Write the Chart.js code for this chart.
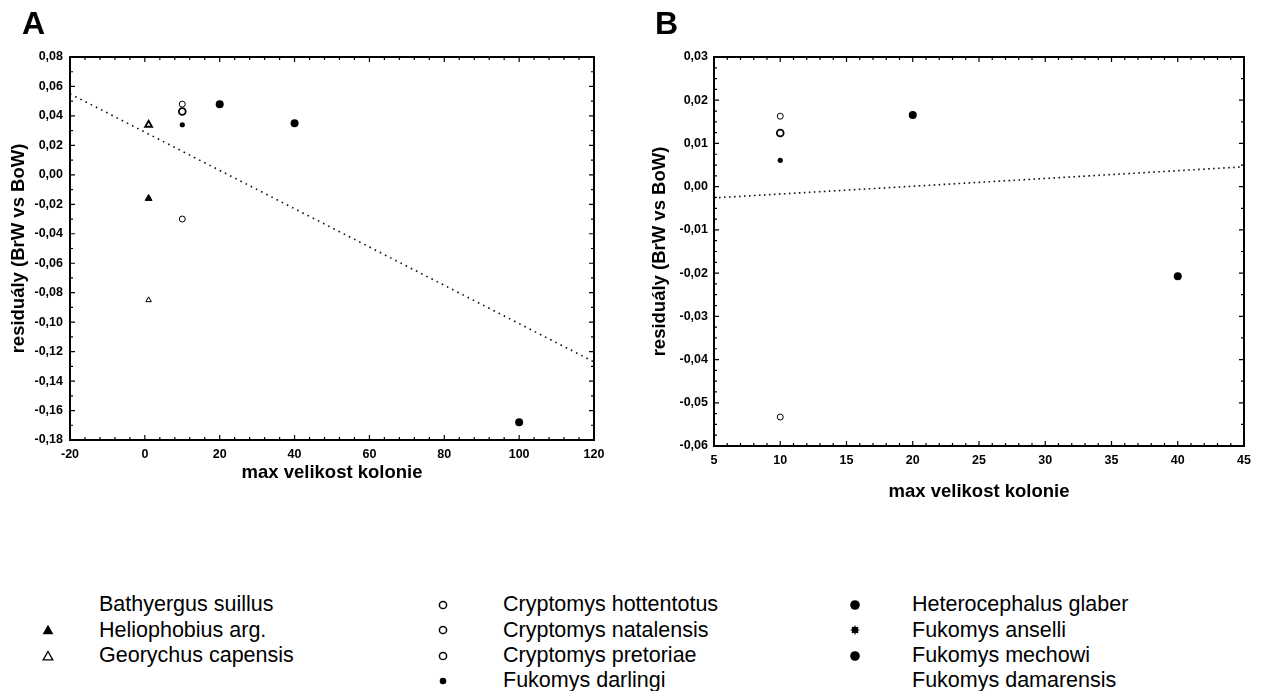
<!DOCTYPE html>
<html>
<head>
<meta charset="utf-8">
<script src="https://cdn.jsdelivr.net/npm/chart.js@4.4.1/dist/chart.umd.min.js"></script>
<style>
body{margin:0;background:#fff;width:1264px;height:691px;overflow:hidden;position:relative;font-family:"Liberation Sans",Arial,sans-serif;}
#cA{position:absolute;left:0;top:0;}
#cB{position:absolute;left:620px;top:0;}
.lab{position:absolute;font-weight:bold;font-size:32px;line-height:32px;color:#000;}
.leg{position:absolute;font-size:21.5px;line-height:25.3px;color:#000;white-space:nowrap;}
.sym{position:absolute;width:14px;height:14px;}
</style>
</head>
<body>
<canvas id="cA" width="620" height="500"></canvas>
<canvas id="cB" width="644" height="520"></canvas>
<div class="lab" style="left:22px;top:7px">A</div>
<div class="lab" style="left:655px;top:7px">B</div>
<div id="legend"></div>
<script>
// tick labels
const xTicksA=[-20,0,20,40,60,80,100,120];
const yTicksA=[-0.18,-0.16,-0.14,-0.12,-0.10,-0.08,-0.06,-0.04,-0.02,0,0.02,0.04,0.06,0.08];
const xTicksB=[5,10,15,20,25,30,35,40,45];
const yTicksB=[-0.06,-0.05,-0.04,-0.03,-0.02,-0.01,0,0.01,0.02,0.03];

// panel A
const triFilledAx=[1], triFilledAy=[-0.016];
const triOpenAx=[1,1], triOpenAy=[0.034,-0.085];
const circOpenAx=[10,10,10], circOpenAy=[0.048,0.043,-0.030];
const dotSmallAx=[10], dotSmallAy=[0.034];
const dotBigAx=[20,40,100], dotBigAy=[0.048,0.035,-0.168];
const fitAx=[-20,120], fitAy=[0.055,-0.127];

// panel B
const circOpenBx=[10,10,10], circOpenBy=[0.0163,0.0124,-0.0533];
const dotSmallBx=[10], dotSmallBy=[0.0061];
const dotBigBx=[20,40], dotBigBy=[0.0166,-0.0207];
const fitBx=[5,45], fitBy=[-0.0026,0.0046];

// legend
const legendCol1=["Bathyergus suillus","Heliophobius arg.","Georychus capensis"];
const legendSym1=[null,"triF","triO"];
const legendCol2=["Cryptomys hottentotus","Cryptomys natalensis","Cryptomys pretoriae","Fukomys darlingi"];
const legendSym2=["circO","circO","circO","dotS"];
const legendCol3=["Heterocephalus glaber","Fukomys anselli","Fukomys mechowi","Fukomys damarensis"];
const legendSym3=["dotB","star","dotB",null];

const pts=(xs,ys)=>xs.map((x,i)=>({x:x,y:ys[i]}));
const fmt=v=>{const n=Math.abs(v)<1e-9?0:v;return n.toFixed(2).replace(".",",");};

// frame + inward minor ticks
const frame={
  id:"frame",
  afterDatasetsDraw(chart,args,o){
    const {ctx,chartArea:a,scales:{x,y}}=chart;
    const steps=(min,max,st)=>{const n=Math.round((max-min)/st);return Array.from({length:n+1},(_,i)=>min+i*st);};
    const isMajor=(v,arr)=>arr.some(t=>Math.abs(t-v)<1e-7);
    ctx.save();
    ctx.strokeStyle="#000";
    ctx.lineWidth=1.2;
    ctx.beginPath();
    steps(x.min,x.max,o.xStep).forEach(v=>{
      const p=x.getPixelForValue(v), L=isMajor(v,o.xMajor)?5:3;
      ctx.moveTo(p,a.top);ctx.lineTo(p,a.top+L);
      ctx.moveTo(p,a.bottom);ctx.lineTo(p,a.bottom-L);
    });
    steps(y.min,y.max,o.yStepL).forEach(v=>{
      const p=y.getPixelForValue(v), L=isMajor(v,o.yMajor)?5:3;
      ctx.moveTo(a.left,p);ctx.lineTo(a.left+L,p);
    });
    steps(y.min,y.max,o.yStepR).forEach(v=>{
      const p=y.getPixelForValue(v), L=isMajor(v,o.yMajor)?5:3;
      ctx.moveTo(a.right,p);ctx.lineTo(a.right-L,p);
    });
    ctx.stroke();
    ctx.lineWidth=2;
    ctx.strokeRect(a.left,a.top,a.right-a.left,a.bottom-a.top);
    ctx.restore();
  }
};

Chart.defaults.font.family='"Liberation Sans", Arial, sans-serif';
Chart.defaults.color="#000";

function makeScales(xt,yt,xf,yf,sz){
  return {
    x:{
      type:"linear",min:xt[0],max:xt[xt.length-1],
      afterBuildTicks:s=>{s.ticks=xt.map(v=>({value:v}));},
      grid:{display:false,drawTicks:false},border:{display:false},
      ticks:{font:{size:12.5,weight:"bold"},color:"#000",padding:sz.xPad,maxRotation:0,autoSkip:false,callback:xf},
      title:{display:true,text:"max velikost kolonie",font:{size:18.5,weight:"bold"},color:"#000",padding:{top:0,bottom:sz.xTitlePad}},
      afterFit:s=>{s.height=sz.xH;}
    },
    y:{
      type:"linear",min:yt[0],max:yt[yt.length-1],
      afterBuildTicks:s=>{s.ticks=yt.map(v=>({value:v}));},
      grid:{display:false,drawTicks:false},border:{display:false},
      ticks:{font:{size:12.5,weight:"bold"},color:"#000",padding:sz.yPad,autoSkip:false,callback:yf},
      title:{display:true,text:"residuály (BrW vs BoW)",font:{size:18.5,weight:"bold"},color:"#000",padding:{top:sz.yTitlePad,bottom:0}},
      afterFit:s=>{s.width=sz.yW;}
    }
  };
}

const mk=(data,style)=>Object.assign({data:data,showLine:false,borderColor:"#000"},style);
const fitStyle=dash=>({showLine:true,pointRadius:0,borderColor:"#111",borderWidth:1.6,borderDash:dash,order:5,fill:false});

new Chart(document.getElementById("cA"),{
  type:"scatter",
  data:{datasets:[
    mk(pts(fitAx,fitAy),fitStyle([1.6,4.2])),
    mk(pts(triFilledAx,triFilledAy),{pointStyle:"triangle",pointRadius:4,backgroundColor:"#000",borderWidth:1}),
    mk(pts(triOpenAx,triOpenAy),{pointStyle:"triangle",pointRadius:[4,3.2],backgroundColor:"#fff",borderWidth:[1.8,1]}),
    mk(pts(circOpenAx,circOpenAy),{pointStyle:"circle",pointRadius:[3,3.4,3],backgroundColor:"#fff",borderWidth:[1,1.8,1]}),
    mk(pts(dotSmallAx,dotSmallAy),{pointStyle:"circle",pointRadius:2.6,backgroundColor:"#000",borderWidth:0}),
    mk(pts(dotBigAx,dotBigAy),{pointStyle:"circle",pointRadius:4,backgroundColor:"#000",borderWidth:0})
  ]},
  options:{
    responsive:false,animation:false,
    layout:{padding:{left:0,top:57,right:26,bottom:15}},
    plugins:{legend:{display:false},tooltip:{enabled:false},
      frame:{xStep:4,yStepL:0.01,yStepR:0.01,xMajor:xTicksA,yMajor:yTicksA}},
    scales:makeScales(xTicksA,yTicksA,v=>String(v),fmt,{xPad:7,xTitlePad:1,xH:45,yPad:7,yTitlePad:8,yW:70})
  },
  plugins:[frame]
});

new Chart(document.getElementById("cB"),{
  type:"scatter",
  data:{datasets:[
    mk(pts(fitBx,fitBy),fitStyle([1.6,3.4])),
    mk(pts(circOpenBx,circOpenBy),{pointStyle:"circle",pointRadius:[3,3.4,3],backgroundColor:"#fff",borderWidth:[1,1.8,1]}),
    mk(pts(dotSmallBx,dotSmallBy),{pointStyle:"circle",pointRadius:2.6,backgroundColor:"#000",borderWidth:0}),
    mk(pts(dotBigBx,dotBigBy),{pointStyle:"circle",pointRadius:4,backgroundColor:"#000",borderWidth:0})
  ]},
  options:{
    responsive:false,animation:false,
    layout:{padding:{left:0,top:57,right:20,bottom:14}},
    plugins:{legend:{display:false},tooltip:{enabled:false},
      frame:{xStep:1,yStepL:0.0025,yStepR:0.005,xMajor:xTicksB,yMajor:yTicksB}},
    scales:makeScales(xTicksB,yTicksB,v=>String(v),fmt,{xPad:7,xTitlePad:3,xH:60,yPad:6,yTitlePad:29,yW:94})
  },
  plugins:[frame]
});

// legend below the panels
function symSvg(kind){
  let inner="";
  if(kind==="triF") inner='<polygon points="7,1.8 12.4,11.2 1.6,11.2" fill="#000"/>';
  if(kind==="triO") inner='<polygon points="7,2.5 11.8,10.8 2.2,10.8" fill="none" stroke="#000" stroke-width="1.3"/>';
  if(kind==="circO") inner='<circle cx="7" cy="7" r="3.6" fill="none" stroke="#000" stroke-width="1.5"/>';
  if(kind==="dotS") inner='<circle cx="7" cy="7" r="3.3" fill="#000"/>';
  if(kind==="dotB") inner='<circle cx="7" cy="7" r="4.8" fill="#000"/>';
  if(kind==="star") inner='<circle cx="7" cy="7" r="3.3" fill="#000"/><path d="M7 2.6V11.4M2.6 7H11.4M3.9 3.9L10.1 10.1M10.1 3.9L3.9 10.1" stroke="#000" stroke-width="1.1"/>';
  return '<svg width="14" height="14" xmlns="http://www.w3.org/2000/svg">'+inner+'</svg>';
}
const legend=document.getElementById("legend");
[[legendCol1,legendSym1,48,99],[legendCol2,legendSym2,443,503],[legendCol3,legendSym3,855,912]].forEach(([names,syms,sx,tx])=>{
  names.forEach((n,i)=>{
    const cy=605+i*25.3;
    const t=document.createElement("div");
    t.className="leg";
    t.style.left=tx+"px";
    t.style.top=(cy-12.65)+"px";
    t.textContent=n;
    legend.appendChild(t);
    if(syms[i]){
      const s=document.createElement("div");
      s.className="sym";
      s.style.left=(sx-7)+"px";
      s.style.top=(cy-7)+"px";
      s.innerHTML=symSvg(syms[i]);
      legend.appendChild(s);
    }
  });
});
</script>
</body>
</html>
